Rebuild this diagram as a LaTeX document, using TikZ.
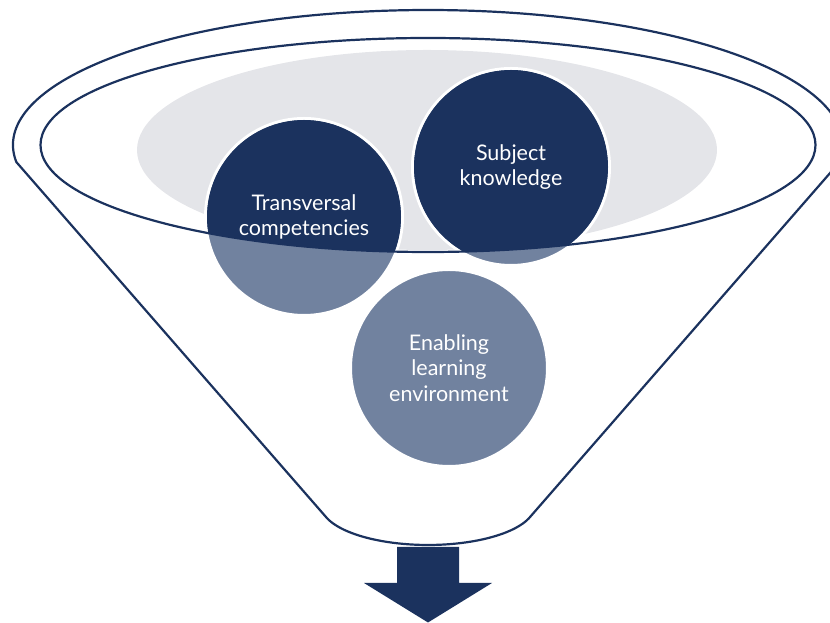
\documentclass[tikz,border=0pt]{standalone}
\usepackage{fontspec}
\setmainfont{Lato}
\definecolor{navy}{HTML}{1B325E}
\definecolor{slate}{HTML}{71829F}
\definecolor{mist}{HTML}{E4E5E9}
\begin{document}
\begin{tikzpicture}[x=1pt,y=1pt,
  rim/.style={draw=navy, line width=2.2pt},
  bubble/.style={circle, fill=slate, draw=white, line width=3pt, minimum size=197pt, inner sep=0pt},
  txt/.style={text=white, align=center, font=\fontsize{21.5}{25.5}\selectfont}]
\useasboundingbox (0,0) rectangle (830,623);
% gray backdrop
\fill[mist] (427,473) ellipse [x radius=290pt, y radius=100pt];
% funnel outline
\draw[rim, line join=round] (16.3,461) arc[start angle=187.23, end angle=-7.23, x radius=415pt, y radius=135pt]
  -- (529,104.8) arc[start angle=-19.3, end angle=-160.7, x radius=107pt, y radius=40pt] -- cycle;
% circles
\node[bubble] (tc) at (304,406) {};
\node[bubble] (sk) at (511,456) {};
\node[bubble] (el) at (449,255) {};
\begin{scope}
  \clip (428,478) ellipse [x radius=387.5pt, y radius=107pt];
  \fill[navy] (tc.center) circle (97pt);
  \fill[navy] (sk.center) circle (97pt);
\end{scope}
% inner rim
\draw[rim] (428,478) ellipse [x radius=387.5pt, y radius=107pt];
% labels
\node[txt] (tct) at (tc.center) {Transversal\\competencies};
\node[txt] (skt) at (sk.center) {Subject\\knowledge};
\node[txt] (elt) at (el.center) {Enabling\\learning\\environment};
% arrow
\fill[navy] (397,76) -- (459,76) -- (459,40) -- (492,40) -- (428,0.5) -- (364,40) -- (397,40) -- cycle;
\end{tikzpicture}
\end{document}
